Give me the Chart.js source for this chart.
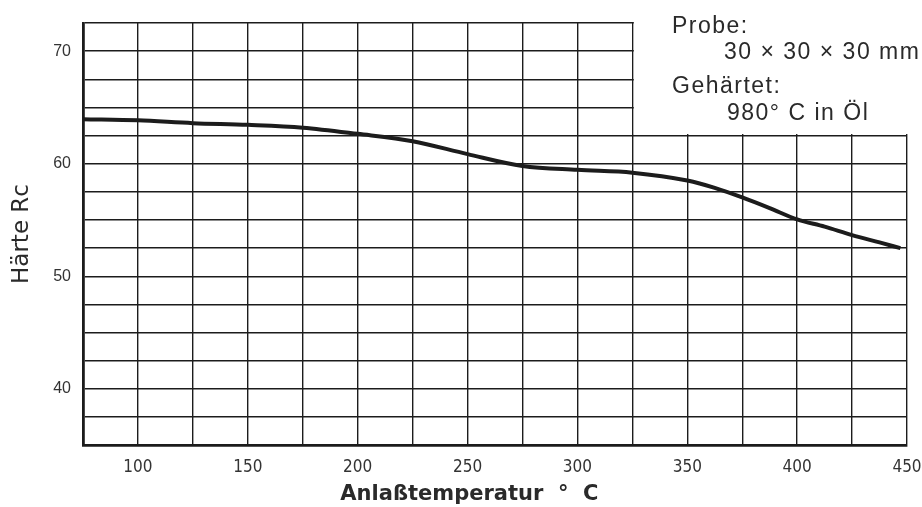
<!DOCTYPE html>
<html>
<head>
<meta charset="utf-8">
<script src="https://cdn.jsdelivr.net/npm/chart.js@4.4.1/dist/chart.umd.min.js"></script>
<style>
  html, body { margin: 0; padding: 0; background: #fff; }
  #wrap { width: 922px; height: 507px; }
</style>
</head>
<body>
<div id="wrap"><canvas id="grafico" width="922" height="507"></canvas></div>
<script>
// Anlaßtemperatur (°C) und Härte (Rc)
const temperaturen = [75, 100, 125, 150, 175, 200, 225, 250, 275, 300, 325, 350, 362.5, 375, 387.5, 400, 412.5, 425, 437.5, 447];
const haerte = [63.95, 63.85, 63.6, 63.45, 63.2, 62.65, 62.0, 60.85, 59.8, 59.45, 59.2, 58.5, 57.85, 57.0, 56.05, 55.05, 54.4, 53.65, 53.0, 52.5];

const xBeschriftung = [100, 150, 200, 250, 300, 350, 400, 450];
const yBeschriftung = [40, 50, 60, 70];

const hinweisTexte = [
  { text: "Probe:", x: 672, y: 33 },
  { text: "30 × 30 × 30 mm", x: 724, y: 59 },
  { text: "Gehärtet:", x: 672, y: 93 },
  { text: "980° C in Öl", x: 727, y: 120 }
];

const tinte = "#1c1c1c";

// weißes Feld oben rechts, Gitter dort ausgespart
const ausschnitt = {
  id: "ausschnitt",
  beforeDatasetsDraw(chart) {
    const { ctx, chartArea, scales } = chart;
    const x0 = scales.x.getPixelForValue(325);
    const y1 = scales.y.getPixelForValue(62.5);
    ctx.save();
    ctx.fillStyle = "#fff";
    ctx.fillRect(x0 + 1.5, 0, chartArea.right + 5 - x0, y1 - 1.5);
    ctx.restore();
  },
  afterDraw(chart) {
    const ctx = chart.ctx;
    ctx.save();
    ctx.fillStyle = "#2a2a2a";
    ctx.font = "23px 'Liberation Sans', Arial, sans-serif";
    ctx.letterSpacing = "1.5px";
    ctx.textBaseline = "alphabetic";
    hinweisTexte.forEach(h => ctx.fillText(h.text, h.x, h.y));
    ctx.restore();
  }
};

const ctx = document.getElementById("grafico").getContext("2d");
new Chart(ctx, {
  type: "line",
  data: {
    datasets: [{
      data: temperaturen.map((t, i) => ({ x: t, y: haerte[i] })),
      borderColor: tinte,
      borderWidth: 4,
      pointRadius: 0,
      fill: false,
      cubicInterpolationMode: "monotone"
    }]
  },
  options: {
    responsive: false,
    animation: false,
    events: [],
    layout: { padding: { top: 23, right: 15, left: 0, bottom: 0 } },
    plugins: { legend: { display: false }, tooltip: { enabled: false } },
    scales: {
      x: {
        type: "linear",
        min: 75,
        max: 450,
        afterFit: s => { s.height = 62; s.paddingLeft = 0; s.paddingRight = 0; },
        ticks: {
          stepSize: 25,
          autoSkip: false,
          maxRotation: 0,
          padding: 12,
          color: "#333",
          font: { family: "'Liberation Sans Narrow', 'DejaVu Sans Condensed', sans-serif", size: 17 },
          callback: v => xBeschriftung.includes(v) ? String(v) : ""
        },
        grid: { color: tinte, lineWidth: 1.4, drawTicks: false },
        border: { color: tinte, width: 2.8 },
        title: {
          display: true,
          text: "Anlaßtemperatur  °  C       ",
          color: "#2a2a2a",
          padding: { top: 0, bottom: 0 },
          font: { family: "'DejaVu Sans', sans-serif", size: 21, weight: "bold" }
        }
      },
      y: {
        type: "linear",
        min: 35,
        max: 72.5,
        afterFit: s => { s.width = 83; s.paddingTop = 0; s.paddingBottom = 0; },
        ticks: {
          stepSize: 2.5,
          autoSkip: false,
          padding: 12,
          color: "#333",
          font: { family: "'Liberation Sans', sans-serif", size: 16 },
          callback: v => yBeschriftung.includes(v) ? String(v) : ""
        },
        grid: { color: tinte, lineWidth: 1.4, drawTicks: false },
        border: { color: tinte, width: 2.8 },
        title: {
          display: true,
          text: "Härte Rc",
          color: "#2a2a2a",
          padding: { top: 8, bottom: 0 },
          font: { family: "'DejaVu Sans', sans-serif", size: 23 }
        }
      }
    }
  },
  plugins: [ausschnitt]
});
</script>
</body>
</html>
